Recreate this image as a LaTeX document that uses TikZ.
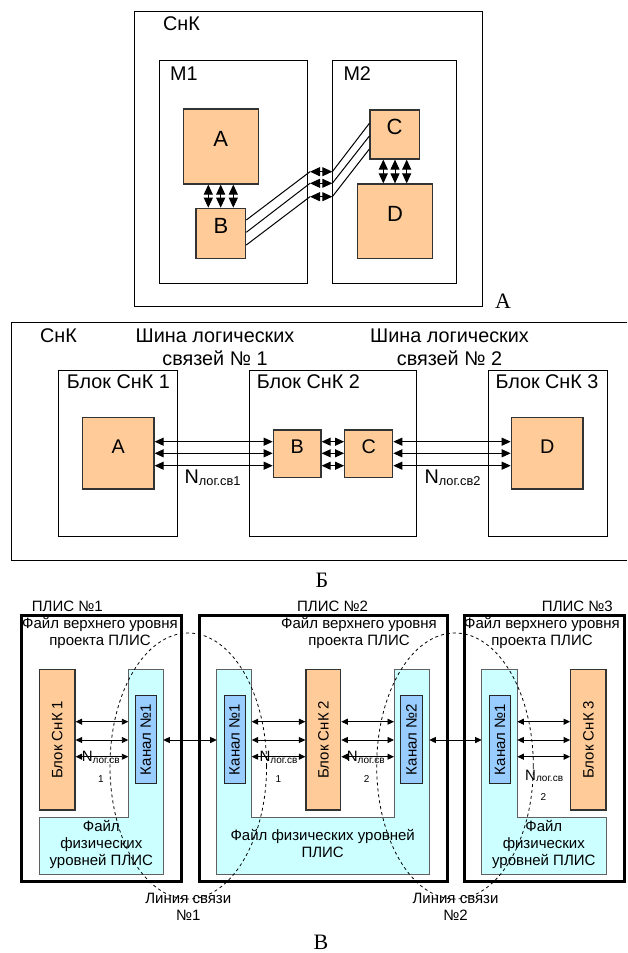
\documentclass[tikz,border=0pt]{standalone}
\usepackage{fontspec}
\setmainfont{Liberation Sans}
\newfontfamily\tagfont{Liberation Serif}
\usetikzlibrary{arrows.meta,fit,shapes.geometric}

\definecolor{boxorange}{HTML}{FFCC99}
\definecolor{filecyan}{HTML}{CCFFFF}
\definecolor{chanblue}{HTML}{99CCFF}
\definecolor{edgegray}{HTML}{606060}

\tikzset{
  sysbox/.style={draw=black, line width=1pt, inner sep=0pt},
  unitbox/.style={draw=black!80, line width=1.2pt, fill=boxorange, inner sep=0pt},
  plisbox/.style={draw=black, line width=3pt, inner sep=0pt},
  chanbox/.style={draw=black!85, line width=1pt, fill=chanblue, inner sep=0pt},
  filezone/.style={draw=edgegray, line width=1pt, fill=filecyan},
  bigtext/.style={font=\fontsize{19.8}{22.6}\selectfont, inner sep=0pt},
  lettertext/.style={font=\fontsize{22}{24}\selectfont, inner sep=0pt},
  smtext/.style={font=\fontsize{15}{17}\selectfont, inner sep=0pt},
  digittext/.style={font=\fontsize{10}{12}\selectfont, inner sep=0pt},
  tagtext/.style={font=\tagfont\fontsize{22}{24}\selectfont, inner sep=0pt},
  arrA/.style={line width=1pt, {Triangle[length=10pt,width=9pt]}-{Triangle[length=10pt,width=9pt]}},
  arrB/.style={line width=1pt, {Triangle[length=9pt,width=8pt]}-{Triangle[length=9pt,width=8pt]}},
  arrC/.style={line width=0.9pt, {Triangle[length=6.5pt,width=6pt]}-{Triangle[length=6.5pt,width=6pt]}},
  wireA/.style={line width=1pt},
  linkzone/.style={draw=black, dashed, line width=0.8pt, ellipse, inner sep=0pt},
}

\begin{document}
\begin{tikzpicture}[x=1pt,y=-1pt]
\useasboundingbox (0,0) rectangle (627,953);

% ===== А: one system with two modules =====
\node[sysbox, fit={(134,11) (482,306)}] (sysA) {};
\node[bigtext, anchor=west] (sysAlbl) at (163,23.3) {СнК};
\node[sysbox, fit={(159,60) (307.7,283)}] (M1) {};
\node[bigtext, anchor=west] (M1lbl) at (170,73.3) {М1};
\node[sysbox, fit={(332.7,60) (456.7,283)}] (M2) {};
\node[bigtext, anchor=west] (M2lbl) at (343.3,73.3) {М2};

\node[unitbox, lettertext, fit={(183.3,109) (258.3,184)}] (Aa) {A};
\node[unitbox, lettertext, fit={(196,208.3) (245.7,258.3)}] (Ba) {B};
\node[unitbox, lettertext, fit={(370,110) (419.3,159)}] (Ca) {C};
\node[unitbox, lettertext, fit={(357.7,184) (432.3,258.3)}] (Da) {D};

% vertical links A-B and C-D
\foreach \x [count=\i] in {208.3,220.7,233.3} {
  \coordinate (ab\i) at (\x,208.3);
  \draw[arrA] (ab\i |- Ba.north) -- (ab\i |- Aa.south);
}
\foreach \x [count=\i] in {383.3,395,406.7} {
  \coordinate (cd\i) at (\x,184);
  \draw[arrA] (cd\i |- Ca.south) -- (cd\i |- Da.north);
}

% links B-C through the gap between the modules
\coordinate (bs1) at (0,220);   \coordinate (bs2) at (0,232.3); \coordinate (bs3) at (0,245);
\coordinate (ce1) at (0,123.3); \coordinate (ce2) at (0,136);   \coordinate (ce3) at (0,149);
\coordinate (gl1) at (310,171.7); \coordinate (gl2) at (310,183.3); \coordinate (gl3) at (310,196.7);
\coordinate (gr1) at (332.3,171.7); \coordinate (gr2) at (332.3,183.3); \coordinate (gr3) at (332.3,196.7);
\foreach \i in {1,2,3} {
  \draw[wireA] (Ba.east |- bs\i) -- (gl\i);
  \draw[arrA] (gl\i) -- (gr\i);
  \draw[wireA] (gr\i) -- (Ca.west |- ce\i);
}
\node[tagtext] (tagA) at (503,301) {А};

% ===== Б: three blocks on logical buses =====
\draw[line width=1pt] (627,322.3) -- (11,322.3) -- (11,560.7) -- (627,560.7);
\node[bigtext, anchor=west] (sysBlbl) at (40,335.7) {СнК};
\node[bigtext, align=center] (bus1) at (215,347) {Шина логических\\связей № 1};
\node[bigtext, align=center] (bus2) at (449.5,347) {Шина логических\\связей № 2};

\node[sysbox, fit={(58.3,370.7) (177.3,536)}] (U1b) {};
\node[bigtext, anchor=west] (U1blbl) at (66.7,381.7) {Блок СнК 1};
\node[sysbox, fit={(249.3,370.7) (416.3,536)}] (U2b) {};
\node[bigtext, anchor=west] (U2blbl) at (256.7,381.7) {Блок СнК 2};
\node[sysbox, fit={(488,370.7) (607,536)}] (U3b) {};
\node[bigtext, anchor=west] (U3blbl) at (495.3,381.7) {Блок СнК 3};

\node[unitbox, bigtext, fit={(82.7,417.7) (154,489)}] (Ab) {A};
\node[unitbox, bigtext, fit={(273.3,430) (321,477.3)}] (Bb) {B};
\node[unitbox, bigtext, fit={(344.7,430) (392.7,477.3)}] (Cb) {C};
\node[unitbox, bigtext, fit={(511.3,417.7) (583,489)}] (Db) {D};

\coordinate (rb1) at (0,441.7); \coordinate (rb2) at (0,453.3); \coordinate (rb3) at (0,465.7);
\foreach \i in {1,2,3} {
  \draw[arrB] (Ab.east |- rb\i) -- (Bb.west |- rb\i);
  \draw[arrB] (Bb.east |- rb\i) -- (Cb.west |- rb\i);
  \draw[arrB] (Cb.east |- rb\i) -- (Db.west |- rb\i);
}
\node[bigtext, anchor=base west] (nb1) at (184.3,483.3)
  {N\raisebox{-2.5pt}{\fontsize{12.8}{14}\selectfont лог.св1}};
\node[bigtext, anchor=base west] (nb2) at (424.3,483.3)
  {N\raisebox{-2.5pt}{\fontsize{12.8}{14}\selectfont лог.св2}};
\node[tagtext] (tagB) at (322,580) {Б};

% ===== В: three FPGA projects =====
\node[smtext, anchor=west] (P1lbl) at (31.7,606.7) {ПЛИС №1};
\node[smtext, anchor=west] (P2lbl) at (297,606.7) {ПЛИС №2};
\node[smtext, anchor=east] (P3lbl) at (613,606.7) {ПЛИС №3};

\node[plisbox, fit={(21.7,615) (181.7,881.7)}] (P1) {};
\node[plisbox, fit={(199,615) (447.3,881.7)}] (P2) {};
\node[plisbox, fit={(464,615) (624,881.7)}] (P3) {};

% physical-level files
\draw[filezone] (128.3,669.3) -- (163.3,669.3) -- (163.3,874) -- (39.3,874)
  -- (39.3,817.3) -- (128.3,817.3) -- cycle;
\draw[filezone] (216.7,669.3) -- (251.7,669.3) -- (251.7,817.3) -- (394,817.3)
  -- (394,669.3) -- (429.3,669.3) -- (429.3,874) -- (216.7,874) -- cycle;
\draw[filezone] (481.7,669.3) -- (517.3,669.3) -- (517.3,817.3) -- (606,817.3)
  -- (606,874) -- (481.7,874) -- cycle;
\coordinate (f1in) at (128.3,669.3);  \coordinate (f1out) at (163.3,669.3);
\coordinate (f2out) at (216.7,669.3); \coordinate (f2in) at (251.7,669.3);
\coordinate (f2jin) at (394,669.3);   \coordinate (f2jout) at (429.3,669.3);
\coordinate (f3out) at (481.7,669.3); \coordinate (f3in) at (517.3,669.3);

\node[smtext, align=center] (top1) at (100,633.3) {Файл верхнего уровня\\проекта ПЛИС};
\node[smtext, align=center] (top2) at (359,633.3) {Файл верхнего уровня\\проекта ПЛИС};
\node[smtext, align=center] (top3) at (542,633.3) {Файл верхнего уровня\\проекта ПЛИС};

\node[smtext, align=center] (phy1) at (101.3,844.5) {Файл\\физических\\уровней ПЛИС};
\node[smtext, align=center] (phy2) at (322.7,843.3) {Файл физических уровней\\ПЛИС};
\node[smtext, align=center] (phy3) at (543.8,844.5) {Файл\\физических\\уровней ПЛИС};

% channels
\node[chanbox, fit={(135,695.7) (156.7,783.3)},
  label={[smtext, rotate=90]center:Канал №1}] (K11) {};
\node[chanbox, fit={(224,695.7) (245,783.3)},
  label={[smtext, rotate=90]center:Канал №1}] (K21) {};
\node[chanbox, fit={(400.7,695.7) (422.3,783.3)},
  label={[smtext, rotate=90]center:Канал №2}] (K22) {};
\node[chanbox, fit={(489.3,695.7) (510.7,783.3)},
  label={[smtext, rotate=90]center:Канал №1}] (K31) {};

% system blocks
\node[unitbox, fit={(39.3,669.3) (75,810)},
  label={[smtext, rotate=90]center:Блок СнК 1}] (U1) {};
\node[unitbox, fit={(306,669.3) (340.7,810)},
  label={[smtext, rotate=90]center:Блок СнК 2}] (U2) {};
\node[unitbox, fit={(570.7,669.3) (606,810)},
  label={[smtext, rotate=90]center:Блок СнК 3}] (U3) {};

% logical links and physical lines
\coordinate (rc1) at (0,721.7); \coordinate (rc2) at (0,740); \coordinate (rc3) at (0,756.7);
\foreach \i in {1,2,3} {
  \draw[arrC] (U1.east |- rc\i) -- (f1in |- rc\i);
  \draw[arrC] (f2in |- rc\i) -- (U2.west |- rc\i);
  \draw[arrC] (U2.east |- rc\i) -- (f2jin |- rc\i);
  \draw[arrC] (f3in |- rc\i) -- (U3.west |- rc\i);
}
\draw[arrC] (f1out |- rc2) -- (f2out |- rc2);
\draw[arrC] (f2jout |- rc2) -- (f3out |- rc2);

\node[smtext, anchor=base west] (nc1) at (81.7,761.7)
  {N\raisebox{-1.5pt}{\fontsize{10}{12}\selectfont лог.св}};
\node[digittext] (nc1d) at (101,779) {1};
\node[smtext, anchor=base west] (nc2) at (259.3,761.7)
  {N\raisebox{-1.5pt}{\fontsize{10}{12}\selectfont лог.св}};
\node[digittext] (nc2d) at (278.3,779) {1};
\node[smtext, anchor=base west] (nc3) at (346.7,761.7)
  {N\raisebox{-1.5pt}{\fontsize{10}{12}\selectfont лог.св}};
\node[digittext] (nc3d) at (366.7,779) {2};
\node[smtext, anchor=base west] (nc4) at (525,780)
  {N\raisebox{-1.5pt}{\fontsize{10}{12}\selectfont лог.св}};
\node[digittext] (nc4d) at (543.3,796.7) {2};

% communication lines
\node[linkzone, minimum width=156.6pt, minimum height=266pt] (L1) at (188.3,766) {};
\node[linkzone, minimum width=156.6pt, minimum height=266pt] (L2) at (455,766) {};
\node[smtext, align=center] (L1lbl) at (188.3,906.5) {Линия связи\\№1};
\node[smtext, align=center] (L2lbl) at (455.5,906.5) {Линия связи\\№2};

\node[tagtext] (tagC) at (321,942) {В};
\end{tikzpicture}
\end{document}
